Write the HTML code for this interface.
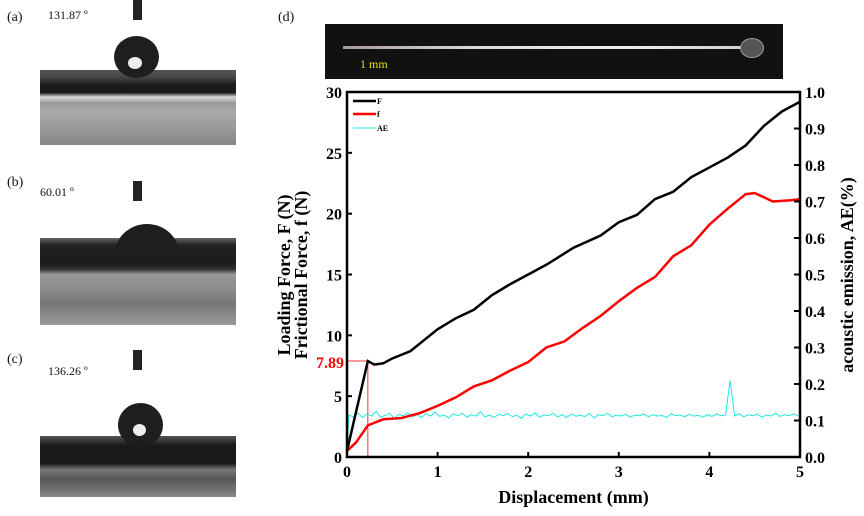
<!DOCTYPE html>
<html><head><meta charset="utf-8"><style>
body{margin:0;background:#fff;width:864px;height:516px;overflow:hidden;position:relative;font-family:"Liberation Serif",serif}
.lbl{position:absolute;font-size:14px;color:#111}
.ang{position:absolute;font-size:12px;color:#111}
.photo{position:absolute;left:40px;width:196px}
.needle{position:absolute;left:133px;width:9px;height:20px;background:#222}
.drop{position:absolute;background:#1e1e1e;border-radius:50%}
.hl{position:absolute;background:#eee;border-radius:50%}
</style></head><body>
<div class="lbl" style="left:7px;top:10px">(a)</div>
<div class="ang" style="left:48px;top:8px">131.87 º</div>
<div class="needle" style="top:0"></div>
<div class="photo" style="top:70px;height:75px;background:linear-gradient(#555 0%,#444 10%,#1a1a1a 20%,#1a1a1a 30%,#d8d8d8 36%,#999 44%,#aaa 55%,#888 100%)"></div>
<div class="drop" style="left:114px;top:36px;width:45px;height:42px"></div>
<div class="hl" style="left:128px;top:57px;width:14px;height:12px"></div>
<div class="lbl" style="left:7px;top:175px">(b)</div>
<div class="ang" style="left:40px;top:185px">60.01 º</div>
<div class="needle" style="top:181px"></div>
<div class="photo" style="top:238px;height:87px;background:linear-gradient(#666 0%,#222 8%,#1c1c1c 30%,#333 36%,#999 42%,#8a8a8a 60%,#777 75%,#999 100%)"></div>
<div class="drop" style="left:115px;top:224px;width:64px;height:30px;border-radius:50% 50% 0 0/100% 100% 0 0"></div>
<div class="lbl" style="left:7px;top:352px">(c)</div>
<div class="ang" style="left:48px;top:364px">136.26 º</div>
<div class="needle" style="top:350px"></div>
<div class="photo" style="top:436px;height:61px;background:linear-gradient(#555 0%,#1a1a1a 15%,#1a1a1a 45%,#777 55%,#555 70%,#888 100%)"></div>
<div class="drop" style="left:118px;top:403px;width:45px;height:44px"></div>
<div class="hl" style="left:133px;top:424px;width:13px;height:12px"></div>
<div class="lbl" style="left:278px;top:10px">(d)</div>
<div style="position:absolute;left:325px;top:24px;width:458px;height:55px;background:#111">
 <div style="position:absolute;left:18px;top:22px;width:420px;height:3px;background:linear-gradient(90deg,#a99,#ddd,#eee,#ccc)"></div>
 <div style="position:absolute;left:415px;top:14px;width:22px;height:18px;border-radius:50%;background:#555;border:1px solid #999"></div>
 <div style="position:absolute;left:35px;top:33px;color:#e8e000;font-size:12px">1 mm</div>
</div>
<svg id="chart" width="864" height="516" style="position:absolute;left:0;top:0"></svg>
<script>
const fX=[0,0.23,0.3,0.4,0.5,0.7,0.85,1.0,1.2,1.4,1.6,1.8,2.0,2.2,2.5,2.8,3.0,3.2,3.4,3.6,3.8,4.0,4.2,4.4,4.6,4.8,5.0];
const fF=[0.5,7.89,7.6,7.7,8.1,8.7,9.6,10.5,11.4,12.1,13.3,14.2,15.0,15.8,17.2,18.2,19.3,19.9,21.2,21.8,23.0,23.8,24.6,25.6,27.2,28.4,29.2];
const fx2=[0,0.1,0.23,0.4,0.6,0.8,1.0,1.2,1.4,1.6,1.8,2.0,2.2,2.4,2.6,2.8,3.0,3.2,3.4,3.6,3.8,4.0,4.2,4.4,4.5,4.7,4.9,5.0];
const ff=[0.5,1.2,2.6,3.1,3.2,3.6,4.2,4.9,5.8,6.3,7.1,7.8,9.0,9.5,10.6,11.6,12.8,13.9,14.8,16.5,17.4,19.1,20.4,21.6,21.7,21.0,21.1,21.2];
const aeVals=[0.115,0.11,0.12,0.108,0.118,0.112,0.125,0.109,0.114,0.12,0.106,0.117,0.113,0.121,0.11,0.116,0.108,0.119,0.112,0.123,0.111,0.115,0.107,0.118,0.113,0.12,0.109,0.116,0.112,0.124,0.11,0.115,0.108,0.117,0.113,0.119,0.111,0.114,0.106,0.118,0.112,0.121,0.109,0.115,0.113,0.12,0.11,0.116,0.108,0.118,0.112,0.114,0.111,0.119,0.107,0.116,0.113,0.12,0.11,0.115,0.112,0.117,0.109,0.115,0.113,0.118,0.11,0.116,0.112,0.114,0.108,0.119,0.113,0.115,0.11,0.117,0.112,0.114,0.109,0.116,0.111,0.118,0.113,0.115,0.21,0.112,0.119,0.11,0.116,0.113,0.117,0.109,0.115,0.112,0.12,0.111,0.116,0.113,0.118,0.112];
const xTicks=[0,1,2,3,4,5];
const yTicks=[0,5,10,15,20,25,30];
const y2Ticks=["0.0","0.1","0.2","0.3","0.4","0.5","0.6","0.7","0.8","0.9","1.0"];
const markVal=7.89, markX=0.23;
const L=347,R=800,T=92,B=457;
const sx=v=>L+(R-L)*v/5, sy=v=>B-(B-T)*v/30, sy2=v=>B-(B-T)*v;
const svg=document.getElementById('chart');const NS='http://www.w3.org/2000/svg';
function mk(t,a,p){const e=document.createElementNS(NS,t);for(const k in a)e.setAttribute(k,a[k]);(p||svg).appendChild(e);return e;}
function pts(xs,ys,f){return xs.map((x,i)=>sx(x)+','+f(ys[i])).join(' ');}
let m=mk('polyline',{points:`${L},${sy(markVal)} ${sx(markX)},${sy(markVal)} ${sx(markX)},${B}`,fill:'none',stroke:'#f33','stroke-width':1});


const aeX=aeVals.map((v,i)=>0.02+4.96*i/(aeVals.length-1));
let ae=mk('polyline',{points:sx(0)+','+sy2(0)+' '+aeX.map((x,i)=>sx(x)+','+sy2(aeVals[i])).join(' '),fill:'none',stroke:'#22e5e5','stroke-width':1});


let lf=mk('polyline',{points:pts(fx2,ff,sy),fill:'none',stroke:'#f00','stroke-width':2.5});


let lF=mk('polyline',{points:pts(fX,fF,sy),fill:'none',stroke:'#000','stroke-width':2.5});


let fr=mk('rect',{x:L,y:T,width:R-L,height:B-T,fill:'none',stroke:'#000','stroke-width':2.5});


const ts='font-family:Liberation Serif,serif;font-weight:bold;font-size:16px';
xTicks.forEach(v=>{mk('line',{x1:sx(v),x2:sx(v),y1:B,y2:B-5,stroke:'#000','stroke-width':2});
 let t=mk('text',{x:sx(v),y:B+20,'text-anchor':'middle',style:ts});t.textContent=v;
 
 });
yTicks.forEach(v=>{mk('line',{x1:L,x2:L+5,y1:sy(v),y2:sy(v),stroke:'#000','stroke-width':2});
 let t=mk('text',{x:L-5,y:sy(v)+6,'text-anchor':'end',style:ts});t.textContent=v;
 
 });
y2Ticks.forEach(v=>{const y=sy2(+v);mk('line',{x1:R,x2:R-6,y1:y,y2:y,stroke:'#000','stroke-width':2});
 let t=mk('text',{x:R+5,y:y+6,style:ts});t.textContent=v;
 
 });
let mv=mk('text',{x:L-3,y:sy(markVal)+7,'text-anchor':'end',style:ts+';fill:#f00'});mv.textContent=markVal;


let xt=mk('text',{x:(L+R)/2,y:503,'text-anchor':'middle',style:'font-family:Liberation Serif,serif;font-weight:bold;font-size:18px'});xt.textContent='Displacement (mm)';


const as='font-family:Liberation Serif,serif;font-weight:bold;font-size:18px';
let y1=mk('text',{transform:'translate(290,275) rotate(-90)','text-anchor':'middle',style:as});y1.textContent='Loading Force, F (N)';


let y1b=mk('text',{transform:'translate(307,275) rotate(-90)','text-anchor':'middle',style:as});y1b.textContent='Frictional Force, f (N)';


let y2=mk('text',{transform:'translate(853,275) rotate(-90)','text-anchor':'middle',style:as});y2.textContent='acoustic emission, AE(%)';


[['F','#000',2.5,101],['f','#f00',2.5,114],['AE','#22e5e5',1,128]].forEach(l=>{
 const g=mk('g',{});
 
 
 mk('line',{x1:353,x2:376,y1:l[3],y2:l[3],stroke:l[1],'stroke-width':l[2]},g);
 const t=mk('text',{x:377,y:l[3]+3,style:'font-family:Liberation Serif,serif;font-weight:bold;font-size:8px'},g);t.textContent=l[0];});
</script>
</body></html>
